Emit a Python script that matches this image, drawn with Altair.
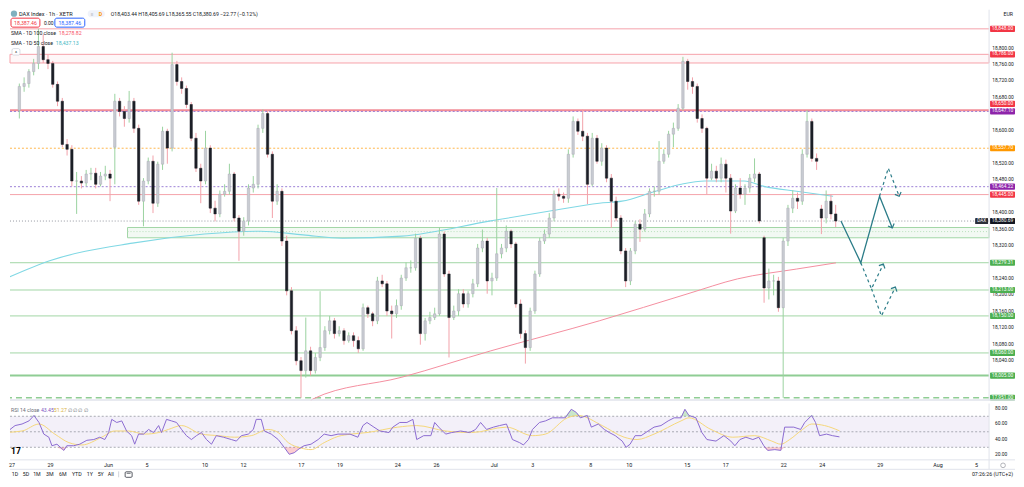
import math
import altair as alt
import pandas as pd

FONT = "Roboto"
INK = "#131722"

# ---------------- values ----------------
# hourly DAX candles condensed to 4 bars per trading day, 27 May .. 24 Jul
OPEN = [
    18650, 18708, 18715, 18744,
    18764, 18805, 18773, 18764,
    18713, 18672, 18567, 18555,
    18478, 18478, 18473, 18495,
    18497, 18470, 18490, 18495,
    18560, 18672, 18647, 18630,
    18672, 18606, 18429, 18478,
    18526, 18424, 18519, 18599,
    18558, 18761, 18720, 18703,
    18664, 18582, 18509, 18478,
    18558, 18412, 18398, 18446,
    18453, 18495, 18388, 18356,
    18381, 18461, 18470, 18606,
    18642, 18543, 18429, 18453,
    18332, 18211, 18114, 18041,
    18017, 18065, 18017, 18049,
    18073, 18114, 18138, 18107,
    18114, 18090, 18102, 18090,
    18070, 18170, 18155, 18138,
    18235, 18228, 18162, 18155,
    18175, 18242, 18267, 18267,
    18339, 18107, 18138, 18146,
    18155, 18349, 18252, 18146,
    18162, 18204, 18179, 18204,
    18228, 18315, 18332, 18235,
    18242, 18301, 18315, 18356,
    18325, 18179, 18107, 18073,
    18162, 18252, 18332, 18349,
    18388, 18446, 18441, 18436,
    18543, 18623, 18599, 18587,
    18470, 18582, 18526, 18558,
    18485, 18429, 18388, 18308,
    18235, 18308, 18373, 18361,
    18398, 18453, 18453, 18526,
    18543, 18592, 18606, 18655,
    18769, 18720, 18708, 18630,
    18606, 18485, 18502, 18485,
    18519, 18485, 18405, 18461,
    18446, 18461, 18485, 18495,
    18340, 18218, 18235, 18235,
    18170, 18332, 18412, 18436,
    18429, 18543, 18623, 18533,
    18410, 18388, 18429, 18398,
]
HIGH = [
    18715, 18730, 18750, 18775,
    18848, 18835, 18785, 18770,
    18720, 18680, 18580, 18565,
    18500, 18490, 18505, 18510,
    18510, 18500, 18515, 18505,
    18690, 18680, 18660, 18697,
    18680, 18615, 18485, 18535,
    18540, 18525, 18610, 18605,
    18790, 18770, 18730, 18710,
    18670, 18595, 18520, 18600,
    18565, 18430, 18455, 18470,
    18520, 18500, 18395, 18390,
    18470, 18490, 18615, 18652,
    18650, 18550, 18470, 18460,
    18345, 18220, 18125, 18050,
    18146, 18075, 18060, 18210,
    18125, 18150, 18145, 18125,
    18120, 18110, 18110, 18100,
    18180, 18175, 18160, 18245,
    18250, 18235, 18175, 18190,
    18250, 18280, 18285, 18350,
    18345, 18145, 18160, 18170,
    18365, 18355, 18260, 18175,
    18215, 18215, 18210, 18240,
    18325, 18360, 18340, 18255,
    18461, 18325, 18370, 18360,
    18330, 18190, 18115, 18170,
    18260, 18340, 18360, 18400,
    18455, 18460, 18450, 18555,
    18635, 18630, 18652, 18595,
    18595, 18590, 18570, 18565,
    18495, 18440, 18395, 18315,
    18315, 18380, 18385, 18410,
    18460, 18465, 18575, 18555,
    18600, 18620, 18665, 18780,
    18775, 18730, 18715, 18640,
    18610, 18520, 18515, 18535,
    18530, 18495, 18470, 18485,
    18470, 18495, 18533, 18500,
    18345, 18265, 18250, 18245,
    18340, 18420, 18455, 18450,
    18555, 18650, 18630, 18545,
    18420, 18455, 18445, 18420,
]
LOW = [
    18630, 18695, 18705, 18735,
    18750, 18765, 18750, 18705,
    18660, 18560, 18540, 18465,
    18398, 18460, 18465, 18480,
    18460, 18465, 18480, 18429,
    18470, 18635, 18610, 18620,
    18595, 18420, 18368, 18470,
    18400, 18415, 18505, 18520,
    18550, 18710, 18690, 18655,
    18575, 18500, 18424, 18470,
    18400, 18380, 18390, 18440,
    18445, 18380, 18284, 18345,
    18370, 18450, 18460, 18595,
    18535, 18388, 18420, 18320,
    18200, 18105, 18030, 17951,
    18000, 18005, 18010, 18040,
    18065, 18105, 18095, 18100,
    18080, 18085, 18075, 18060,
    18065, 18145, 18125, 18130,
    18220, 18150, 18095, 18145,
    18165, 18235, 18255, 18260,
    18080, 18090, 18130, 18140,
    18150, 18245, 18049, 18140,
    18150, 18170, 18170, 18195,
    18220, 18305, 18204, 18200,
    18235, 18290, 18305, 18315,
    18170, 18095, 18034, 18065,
    18155, 18245, 18325, 18340,
    18380, 18430, 18425, 18425,
    18535, 18590, 18575, 18422,
    18465, 18520, 18515, 18475,
    18364, 18380, 18300, 18220,
    18225, 18300, 18330, 18355,
    18390, 18440, 18445, 18520,
    18535, 18560, 18600, 18650,
    18700, 18690, 18620, 18595,
    18446, 18480, 18475, 18475,
    18450, 18350, 18400, 18435,
    18420, 18450, 18475, 18375,
    18182, 18190, 18200, 18160,
    17951, 18320, 18400, 18410,
    18420, 18535, 18525, 18505,
    18349, 18375, 18385, 18366,
]
CLOSE = [
    18708, 18715, 18744, 18764,
    18805, 18773, 18764, 18713,
    18672, 18567, 18555, 18478,
    18478, 18473, 18495, 18497,
    18470, 18490, 18495, 18485,
    18672, 18647, 18630, 18672,
    18606, 18429, 18478, 18526,
    18424, 18519, 18599, 18558,
    18761, 18720, 18703, 18664,
    18582, 18509, 18478, 18558,
    18412, 18398, 18446, 18453,
    18495, 18388, 18356, 18381,
    18461, 18470, 18606, 18642,
    18543, 18429, 18453, 18332,
    18211, 18114, 18041, 18017,
    18065, 18017, 18049, 18073,
    18114, 18138, 18107, 18114,
    18090, 18102, 18090, 18070,
    18170, 18155, 18138, 18235,
    18228, 18162, 18155, 18175,
    18242, 18267, 18267, 18339,
    18107, 18138, 18146, 18155,
    18349, 18252, 18146, 18162,
    18204, 18179, 18204, 18228,
    18315, 18332, 18235, 18242,
    18301, 18315, 18356, 18325,
    18179, 18107, 18073, 18162,
    18252, 18332, 18349, 18388,
    18446, 18441, 18436, 18543,
    18623, 18599, 18587, 18470,
    18582, 18526, 18558, 18485,
    18429, 18388, 18308, 18235,
    18308, 18373, 18361, 18398,
    18453, 18453, 18526, 18543,
    18592, 18606, 18655, 18769,
    18720, 18708, 18630, 18606,
    18485, 18502, 18485, 18519,
    18485, 18405, 18461, 18446,
    18461, 18485, 18495, 18381,
    18218, 18235, 18235, 18170,
    18332, 18412, 18436, 18429,
    18543, 18623, 18533, 18526,
    18388, 18429, 18398, 18380.69,
]
BARS_PER_DAY = 4

# (trading-day index, value)
SMA50 = [(-0.52, 18242), (1.71, 18284), (6.05, 18327), (9.82, 18349), (12.76, 18356),
         (14.99, 18347), (17.05, 18339), (20.16, 18344), (24.81, 18381), (27.91, 18405),
         (30.49, 18424), (31.68, 18429), (33.44, 18453), (34.78, 18470), (36.02, 18478),
         (38.09, 18478), (39.12, 18465), (40.83, 18453), (42.74, 18441)]
SMA100 = [(15.30, 17940), (15.50, 17948), (20.16, 18001), (24.81, 18065), (30.49, 18138),
          (35.14, 18204), (37.73, 18240), (40.83, 18264), (42.89, 18279)]

RSI = [(-0.52, 42), (-0.10, 53), (0.16, 58), (0.52, 60), (0.88, 64), (1.14, 71), (1.40, 62),
       (1.65, 47), (1.91, 43), (2.07, 32), (2.33, 34), (2.69, 26), (2.84, 32), (3.20, 32),
       (3.51, 34), (3.88, 39), (4.24, 40), (4.55, 43), (4.81, 40), (5.01, 49), (5.17, 66),
       (5.43, 62), (5.69, 64), (5.94, 51), (6.20, 45), (6.36, 34), (6.56, 47), (6.82, 47),
       (7.08, 53), (7.34, 49), (7.60, 58), (7.75, 49), (8.01, 66), (8.27, 64), (8.53, 62),
       (8.79, 53), (9.04, 45), (9.30, 40), (9.56, 45), (9.82, 49), (10.08, 40), (10.34, 34),
       (10.59, 45), (10.96, 43), (11.37, 40), (11.63, 38), (11.89, 45), (12.25, 47),
       (12.51, 53), (12.66, 66), (12.92, 66), (13.08, 51), (13.44, 47), (13.80, 40),
       (14.11, 30), (14.37, 21), (14.63, 23), (14.88, 28), (15.14, 32), (15.50, 34),
       (15.87, 40), (16.18, 47), (16.54, 45), (16.90, 47), (17.52, 47), (17.93, 43),
       (18.19, 58), (18.40, 62), (18.76, 56), (19.07, 51), (19.54, 49), (19.74, 56),
       (20.10, 62), (20.47, 62), (20.78, 66), (20.98, 40), (21.34, 45), (21.71, 45),
       (21.91, 62), (22.12, 56), (22.48, 47), (22.79, 49), (23.26, 51), (23.72, 49),
       (24.03, 53), (24.29, 62), (24.60, 53), (24.96, 56), (25.27, 58), (25.63, 60),
       (25.94, 40), (26.31, 36), (26.51, 33), (26.77, 40), (26.98, 53), (27.34, 62),
       (27.65, 64), (28.01, 68), (28.32, 68), (28.68, 68), (28.99, 79), (29.25, 75),
       (29.46, 68), (29.82, 71), (30.03, 56), (30.39, 60), (30.70, 53), (30.96, 49),
       (31.27, 45), (31.63, 38), (31.83, 30), (32.04, 34), (32.30, 45), (32.61, 45),
       (32.97, 51), (33.28, 56), (33.64, 58), (34.01, 64), (34.32, 68), (34.68, 68),
       (34.88, 79), (35.09, 71), (35.45, 68), (35.76, 49), (36.02, 40), (36.49, 38),
       (36.90, 45), (37.26, 38), (37.47, 32), (37.73, 40), (38.04, 43), (38.40, 40),
       (38.71, 43), (38.97, 32), (39.17, 26), (39.54, 27), (39.85, 26), (40.05, 56),
       (40.52, 56), (40.88, 53), (41.09, 62), (41.45, 71), (41.65, 62), (41.86, 45),
       (42.22, 47), (42.53, 45), (42.89, 43.45)]
RSI_MA = [(-0.52, 49), (0.52, 51), (1.40, 60), (2.22, 47), (2.95, 36), (3.62, 33), (4.65, 43),
          (5.32, 51), (6.05, 51), (6.87, 47), (7.60, 49), (8.11, 53), (8.79, 58), (9.82, 47),
          (10.70, 45), (11.53, 43), (12.40, 45), (13.28, 53), (13.80, 49), (14.32, 36),
          (14.99, 29), (15.50, 27), (16.18, 36), (16.90, 44), (17.57, 47), (18.40, 49),
          (20.00, 56), (20.98, 58), (22.48, 51), (23.82, 49), (25.63, 56), (26.98, 45),
          (27.65, 47), (28.79, 68), (29.35, 71), (30.59, 58), (31.73, 43), (32.40, 40),
          (33.28, 47), (34.68, 64), (35.09, 68), (36.23, 53), (37.36, 43), (38.50, 45),
          (39.38, 38), (39.85, 34), (40.31, 40), (40.98, 53), (41.45, 60), (42.12, 58),
          (42.89, 51.27)]

# hand-drawn scenario arrows
PROJ_SOLID = [(43.15, 18381), (44.19, 18279), (45.17, 18441), (45.84, 18364)]
PROJ_DASHED = [
    [(45.17, 18441), (45.63, 18509), (46.20, 18441)],
    [(44.19, 18279), (44.75, 18216), (45.37, 18276)],
    [(44.75, 18216), (45.27, 18150), (46.00, 18220)],
]

LEVELS = [18848.00, 18650.00, 18647.10, 18557.70, 18464.22, 18445.00,
          18279.31, 18213.00, 18150.00, 18060.00, 18005.00, 17951.00]
LEVEL_KIND = ["res", "res_bold", "purple", "orange", "purple", "res",
              "sup", "sup", "sup", "sup", "sup_bold", "sup_dash"]
RED_ZONE = [18786.0, 18765.0]
GREEN_ZONE = [18365.0, 18340.0]
GREEN_ZONE_START = 5.79
LAST_PRICE = 18380.69

PRICE_TICKS = [18800, 18760, 18720, 18680, 18600, 18520, 18480, 18400, 18360,
               18320, 18240, 18200, 18160, 18120, 18080, 18040]
TAG_PRICES = [18848.00, 18786.00, 18650.00, 18647.10, 18557.70, 18464.22, 18445.00,
              18380.69, 18279.31, 18213.00, 18150.00, 18060.00, 18005.00, 17951.00]
TAG_KIND = ["red", "red", "red", "purple", "orange", "purple", "red",
            "last", "green", "green", "green", "green", "green", "green"]
RSI_TICKS = [80, 60, 40, 20]
RSI_LEVELS = [70, 50, 30]

DATE_DAYS = [0, 2, 5, 7, 10, 12, 15, 17, 20, 22, 25, 27, 30, 32, 35, 37, 40, 42, 45, 48, 50]
DATE_TEXT = ["27", "29", "Jun", "5", "10", "12", "17", "19", "24", "26", "Jul", "3",
             "8", "10", "15", "17", "22", "24", "29", "Aug", "5"]

# ---------------- layout / style ----------------
W, H_MAIN, H_RSI = 982, 392, 56
PX_DAY, PX_PT, PX_RSI = 19.35, 0.4125, 0.778
T0 = -2 / PX_DAY
T1 = T0 + W / PX_DAY
P_TOP = 18800 + 39 / PX_PT
P_BOT = P_TOP - H_MAIN / PX_PT
R_TOP = 80 + 5 / PX_RSI
R_BOT = R_TOP - H_RSI / PX_RSI

STYLE = {
    "res": dict(color="#f5a3ab", strokeWidth=1),
    "res_bold": dict(color="#f28c97", strokeWidth=2),
    "purple": dict(color="#9c7fd6", strokeWidth=1, strokeDash=[2, 2]),
    "orange": dict(color="#ffb74d", strokeWidth=1, strokeDash=[2, 2]),
    "sup": dict(color="#a2d6a6", strokeWidth=1),
    "sup_bold": dict(color="#8fcd94", strokeWidth=2),
    "sup_dash": dict(color="#8fcd94", strokeWidth=1.5, strokeDash=[6, 4]),
}
TAG_COLOR = {"red": "#f23645", "purple": "#8e24aa", "orange": "#ff9800",
             "green": "#4caf50", "last": "#131722"}
TAG_NUDGE_PX = {18650.00: -6.4}
TEAL = "#2b7c88"

XS = alt.Scale(domain=[T0, T1], nice=False, zero=False)
YS = alt.Scale(domain=[P_BOT, P_TOP], nice=False, zero=False)
RS = alt.Scale(domain=[R_BOT, R_TOP], nice=False, zero=False)
ONE = pd.DataFrame({"k": [0]})


def X(f="t"):
    return alt.X(f"{f}:Q", scale=XS, axis=None)


def Y(f):
    return alt.Y(f"{f}:Q", scale=YS, axis=None)


def R(f):
    return alt.Y(f"{f}:Q", scale=RS, axis=None)


def label(s, x, y, color=INK, size=5.3, weight="normal", align="left"):
    return alt.Chart(ONE).mark_text(
        text=s, align=align, baseline="middle", fontSize=size, fontWeight=weight,
        color=color, font=FONT).encode(x=alt.value(x), y=alt.value(y))


def box(x1, x2, y1, y2, fill="white", stroke=None, radius=0, sw=1, fo=1.0):
    kw = dict(fill=fill, fillOpacity=fo, cornerRadius=radius)
    if stroke:
        kw.update(stroke=stroke, strokeWidth=sw)
    return alt.Chart(ONE).mark_rect(**kw).encode(
        x=alt.value(x1), x2=alt.value(x2), y=alt.value(y1), y2=alt.value(y2))


def hline(y, x1, x2, color="#e0e3eb", w=1):
    return alt.Chart(ONE).mark_rule(color=color, strokeWidth=w).encode(
        x=alt.value(x1), x2=alt.value(x2), y=alt.value(y))


def vline(x, y1, y2, color="#e0e3eb", w=1):
    return alt.Chart(ONE).mark_rule(color=color, strokeWidth=w).encode(
        x=alt.value(x), y=alt.value(y1), y2=alt.value(y2))


# ---------------- main pane ----------------
n = len(CLOSE)
cdf = pd.DataFrame({
    "t": [k // BARS_PER_DAY + (k % BARS_PER_DAY + 0.5) / BARS_PER_DAY for k in range(n)],
    "o": OPEN, "h": HIGH, "l": LOW, "c": CLOSE})
cdf["h"] = cdf[["h", "o", "c"]].max(axis=1)
cdf["l"] = cdf[["l", "o", "c"]].min(axis=1)
up = cdf["c"] >= cdf["o"]
cdf["wick"] = up.map({True: "#9bd3a0", False: "#f2a2aa"})
cdf["body"] = up.map({True: "#c9ccd3", False: "#1c1f27"})
cdf["edge"] = up.map({True: "#a9acb4", False: "#1c1f27"})

layers = []
zr = pd.DataFrame({"a": [RED_ZONE[0]], "b": [RED_ZONE[1]]})
layers.append(alt.Chart(zr).mark_rect(fill="#f23645", fillOpacity=0.04, stroke="#f6a2aa",
                                      strokeWidth=1).encode(
    x=alt.value(0), x2=alt.value(W), y=Y("a"), y2="b:Q"))
zg = pd.DataFrame({"t": [GREEN_ZONE_START], "a": [GREEN_ZONE[0]], "b": [GREEN_ZONE[1]],
                   "m": [GREEN_ZONE[0] - (GREEN_ZONE[0] - GREEN_ZONE[1]) * 0.4]})
layers.append(alt.Chart(zg).mark_rect(fill="#4caf50", fillOpacity=0.07, stroke="#a2d6a6",
                                      strokeWidth=1).encode(
    x=X(), x2=alt.value(W), y=Y("a"), y2="b:Q"))
layers.append(alt.Chart(zg).mark_rule(color="#b9e0bc", strokeDash=[1, 2]).encode(
    x=X(), x2=alt.value(W - 2), y=Y("m")))

for p, kind in zip(LEVELS, LEVEL_KIND):
    layers.append(alt.Chart(pd.DataFrame({"p": [p]})).mark_rule(**STYLE[kind]).encode(y=Y("p")))
layers.append(alt.Chart(pd.DataFrame({"p": [LAST_PRICE]})).mark_rule(
    color="#9598a1", strokeWidth=1, strokeDash=[1, 2]).encode(y=Y("p")))

layers.append(alt.Chart(pd.DataFrame(SMA100, columns=["t", "p"])).mark_line(
    color="#f48fa0", strokeWidth=1, interpolate="monotone", clip=True).encode(x=X(), y=Y("p")))
layers.append(alt.Chart(pd.DataFrame(SMA50, columns=["t", "p"])).mark_line(
    color="#80d8e4", strokeWidth=1.1, interpolate="monotone", clip=True).encode(x=X(), y=Y("p")))

layers.append(alt.Chart(cdf).mark_rule(strokeWidth=1, clip=True).encode(
    x=X(), y=Y("l"), y2="h:Q", color=alt.Color("wick:N", scale=None)))
layers.append(alt.Chart(cdf).mark_bar(width=2.4, strokeWidth=0.5, clip=True).encode(
    x=X(), y=Y("o"), y2="c:Q", fill=alt.Fill("body:N", scale=None),
    stroke=alt.Stroke("edge:N", scale=None)))

# scenario arrows
sdf = pd.DataFrame(PROJ_SOLID, columns=["t", "p"]).reset_index()
layers.append(alt.Chart(sdf).mark_line(color=TEAL, strokeWidth=1.3).encode(
    x=X(), y=Y("p"), order="index:Q"))
rows = []
for g, path in enumerate(PROJ_DASHED):
    for i, (t, p) in enumerate(path):
        rows.append({"g": g, "i": i, "t": t, "p": p})
layers.append(alt.Chart(pd.DataFrame(rows)).mark_line(
    color=TEAL, strokeWidth=1.2, strokeDash=[3, 3]).encode(
    x=X(), y=Y("p"), detail="g:N", order="i:Q"))
heads = []
for path in [PROJ_SOLID] + PROJ_DASHED:
    (t1, p1), (t2, p2) = path[-2], path[-1]
    dx = (t2 - t1) * PX_DAY
    dy = -(p2 - p1) * PX_PT
    heads.append({"t": t2, "p": p2, "a": (math.degrees(math.atan2(dx, -dy)) + 360) % 360})
layers.append(alt.Chart(pd.DataFrame(heads)).mark_point(
    shape="M-1,1L0,0L1,1", filled=False, size=45, strokeWidth=1.2, color=TEAL, opacity=1).encode(
    x=X(), y=Y("p"), angle=alt.Angle("a:Q", scale=None)))

# header / legend
layers += [
    alt.Chart(ONE).mark_point(shape="circle", filled=True, size=40, color="#4b8fa3").encode(
        x=alt.value(4), y=alt.value(4)),
    label("DAX Index · 1h · XETR", 9, 4, size=5.6),
    box(78, 95, 0.5, 7.5, fill="#f0f3fa", radius=3),
    label("≡", 81, 4, color="#787b86", size=5),
    label("D", 89, 4, color="#ff9800", size=5.3, weight="bold"),
    label("O18,403.44 H18,405.69 L18,365.55 C18,380.69 −22.77 (−0.12%)", 101, 4, size=5.2),
    box(1, 30, 8.5, 17.5, stroke="#f23645", radius=2),
    label("18,387.46", 15.5, 13, color="#f23645", size=5.2, align="center"),
    label("0.00", 34, 13, size=5),
    box(45, 75, 8.5, 17.5, stroke="#2962ff", radius=2),
    label("18,387.46", 60, 13, color="#2962ff", size=5.2, align="center"),
    label("SMA - 1D 100 close", 1, 23, size=5.2),
    label("18,278.82", 49, 23, color="#f7525f", size=5.2),
    label("SMA - 1D 50 close", 1, 33, size=5.2),
    label("18,437.13", 46, 33, color="#3fb8c4", size=5.2),
    box(2, 10, 39, 45.5, stroke="#d1d4dc", radius=1.5, sw=0.8),
    label("^", 6, 43, color="#131722", size=5, align="center"),
    label("EUR", 1006, 4, size=5.2, align="right"),
]

# right price scale
tick_df = pd.DataFrame({"p": PRICE_TICKS})
tick_df["lab"] = tick_df["p"].map(lambda v: f"{v:,.2f}")
layers.append(alt.Chart(tick_df).mark_text(fontSize=4.9, color=INK, font=FONT, align="center",
                                           baseline="middle").encode(
    x=alt.value(W + 14), y=Y("p"), text="lab:N"))
tag_df = pd.DataFrame({"p": TAG_PRICES, "kind": TAG_KIND})
tag_df["disp"] = tag_df["p"] + tag_df["p"].map(lambda v: TAG_NUDGE_PX.get(v, 0.0)) * -1 / PX_PT
tag_df["hi"] = tag_df["disp"] + 3.1 / PX_PT
tag_df["lo"] = tag_df["disp"] - 3.1 / PX_PT
tag_df["col"] = tag_df["kind"].map(TAG_COLOR)
tag_df["lab"] = tag_df["p"].map(lambda v: f"{v:,.2f}")
layers.append(alt.Chart(tag_df).mark_rect(cornerRadius=1).encode(
    x=alt.value(W + 1), x2=alt.value(W + 26), y=Y("lo"), y2="hi:Q",
    fill=alt.Fill("col:N", scale=None)))
layers.append(alt.Chart(tag_df).mark_text(fontSize=4.9, color="white", font=FONT, align="center",
                                          baseline="middle").encode(
    x=alt.value(W + 13.5), y=Y("disp"), text="lab:N"))
last_df = tag_df[tag_df["kind"] == "last"]
layers.append(alt.Chart(last_df).mark_rect(cornerRadius=1, fill="#2a2e39").encode(
    x=alt.value(W - 14), x2=alt.value(W - 1), y=Y("lo"), y2="hi:Q"))
layers.append(alt.Chart(last_df).mark_text(text="DAX", fontSize=4.6, color="white", font=FONT,
                                           align="center", baseline="middle").encode(
    x=alt.value(W - 7.5), y=Y("disp")))

layers += [vline(W, 0, H_MAIN), hline(H_MAIN - 0.5, 0, 1008, w=1.5)]

main = alt.layer(*layers).properties(width=W, height=H_MAIN)

# ---------------- RSI pane ----------------
rdf = pd.DataFrame(RSI, columns=["t", "v"])
rdf["ob"] = rdf["v"].clip(lower=70)
rdf["os"] = rdf["v"].clip(upper=30)
rdf["c70"] = 70
rdf["c30"] = 30
band = pd.DataFrame({"a": [70], "b": [30]})

rl = [alt.Chart(band).mark_rect(fill="#7e57c2", fillOpacity=0.09).encode(
    x=alt.value(0), x2=alt.value(W), y=R("a"), y2="b:Q")]
for lv in RSI_LEVELS:
    rl.append(alt.Chart(pd.DataFrame({"v": [lv]})).mark_rule(
        color="#9598a1", strokeWidth=0.8, strokeDash=[2, 2]).encode(y=R("v")))
rl.append(alt.Chart(rdf).mark_area(color="#4caf50", opacity=0.3, clip=True).encode(
    x=X(), y=R("ob"), y2="c70:Q"))
rl.append(alt.Chart(rdf).mark_area(color="#f23645", opacity=0.25, clip=True).encode(
    x=X(), y=R("os"), y2="c30:Q"))
rl.append(alt.Chart(pd.DataFrame(RSI_MA, columns=["t", "v"])).mark_line(
    color="#f5d77a", strokeWidth=1, interpolate="monotone", clip=True).encode(x=X(), y=R("v")))
rl.append(alt.Chart(rdf).mark_line(color="#8c6bd1", strokeWidth=1, clip=True).encode(
    x=X(), y=R("v")))

rl += [
    label("RSI 14 close", 1, 6, color="#6a6d78", size=5.2),
    label("43.45", 31, 6, color="#7e57c2", size=5.2),
    label("51.27", 44, 6, color="#d9b13b", size=5.2),
    label("∅   ∅   ∅   ∅", 58, 6, color="#6a6d78", size=5.2),
    label("17", 6, 48, color="#000000", size=8.5, weight="bold", align="center"),
]
rt = pd.DataFrame({"v": RSI_TICKS})
rt["lab"] = rt["v"].map(lambda v: f"{v:.2f}")
rl.append(alt.Chart(rt).mark_text(fontSize=4.9, color=INK, font=FONT, align="center",
                                  baseline="middle").encode(
    x=alt.value(W + 12), y=R("v"), text="lab:N"))

ddf = pd.DataFrame({"t": DATE_DAYS, "lab": DATE_TEXT})
rl.append(alt.Chart(ddf).mark_text(fontSize=5.4, color=INK, font=FONT, align="center",
                                   baseline="middle").encode(
    x=X(), y=alt.value(62), text="lab:N"))

toolbar = ["1D", "5D", "1M", "3M", "6M", "YTD", "1Y", "5Y", "All"]
toolbar_x = [5, 16, 27, 40, 53, 67, 80, 91, 101]
for s, x in zip(toolbar, toolbar_x):
    rl.append(label(s, x, 71, size=5.3, align="center"))
rl += [
    vline(109, 68, 74, color="#d1d4dc"),
    box(115.5, 122.5, 68.5, 74, stroke="#131722", sw=0.7, fill="white", radius=1),
    hline(70, 117, 121, color="#131722", w=0.6),
    label("07:26:26 (UTC+2)", 1006, 71, size=5.3, align="right"),
    alt.Chart(ONE).mark_point(shape="circle", filled=False, size=22, color="#787b86",
                              strokeWidth=0.8).encode(x=alt.value(W + 14), y=alt.value(62)),
    vline(W, 0, 66),
    hline(H_RSI + 0.5, 0, 1008),
    hline(66, 0, 1008),
]

rsi = alt.layer(*rl).properties(width=W, height=H_RSI)

chart = alt.vconcat(main, rsi, spacing=1).properties(
    padding=0, background="white").configure_view(strokeWidth=0)

chart.save("out.html", embed_options={"renderer": "svg", "actions": False})
